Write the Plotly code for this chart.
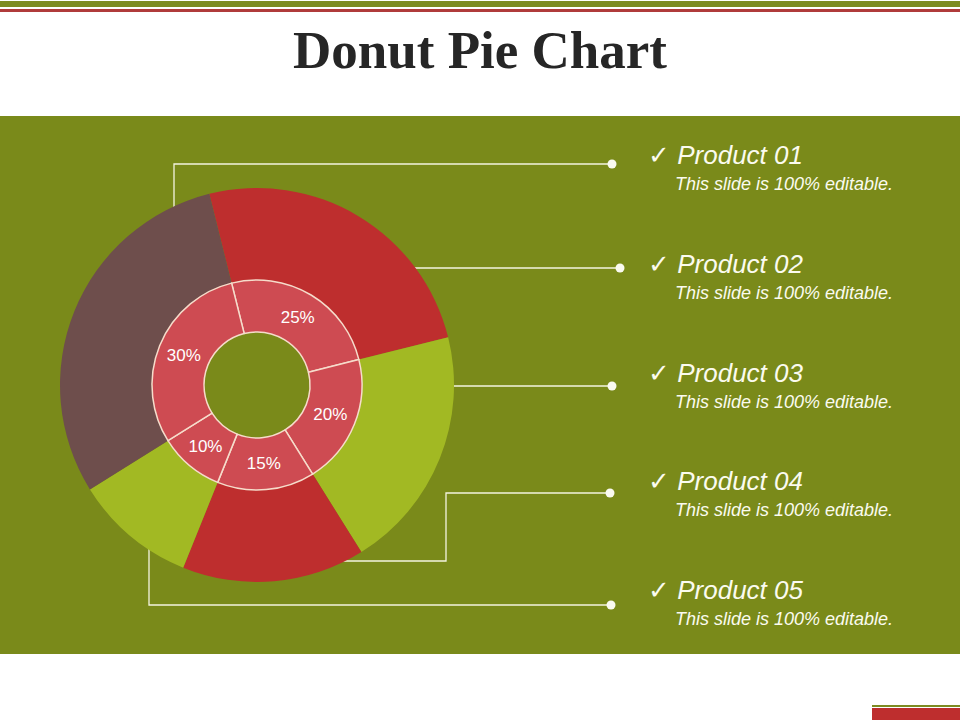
import plotly.graph_objects as go

# data
products = ["Product 01", "Product 02", "Product 03", "Product 04", "Product 05"]
shares = [25, 20, 15, 10, 30]
subtitle = "This slide is 100% editable."

RED = "#BE2E2E"
LIME = "#A2B923"
BROWN = "#6E4E4C"
RING = "#CE4B52"
OLIVE = "#7A8A1A"
W, H = 960, 720

outer_colors = [RED, LIME, RED, LIME, BROWN]

# pie geometry in pixels
cx, cy = 257, 385
r_out, r_mid, r_hole = 197, 105, 53


def dom(r):
    return dict(x=[(cx - r) / W, (cx + r) / W],
                y=[1 - (cy + r) / H, 1 - (cy - r) / H])


fig = go.Figure()

# connector lines, drawn under the pies
paths = [
    ([174, 174, 612], [220, 164, 164]),
    ([400, 620], [268, 268]),
    ([440, 612], [386, 386]),
    ([340, 446, 446, 610], [561, 561, 493, 493]),
    ([149, 149, 611], [530, 605, 605]),
]
for px, py in paths:
    fig.add_trace(go.Scatter(x=px, y=py, mode="lines",
                             line=dict(color="#F4F4E0", width=1.3),
                             hoverinfo="skip"))
    fig.add_trace(go.Scatter(x=[px[-1]], y=[py[-1]], mode="markers",
                             marker=dict(color="#FAFAF0", size=9),
                             hoverinfo="skip"))

fig.add_trace(go.Pie(
    values=shares, labels=products, sort=False, direction="clockwise",
    rotation=-14, hole=r_mid / r_out, domain=dom(r_out),
    marker=dict(colors=outer_colors, line=dict(width=0)),
    textinfo="none", hoverinfo="skip",
))

fig.add_trace(go.Pie(
    values=shares, labels=products, sort=False, direction="clockwise",
    rotation=-14, hole=r_hole / r_mid, domain=dom(r_mid),
    marker=dict(colors=[RING] * len(shares), line=dict(color="#F6DCCB", width=1.5)),
    texttemplate="%{value}%", textposition="inside",
    insidetextorientation="horizontal",
    textfont=dict(family="Liberation Sans, Arial", size=17, color="white"),
    hoverinfo="skip",
))

annotations = [dict(
    x=480, y=50, xref="x", yref="y", text="<b>Donut Pie Chart</b>",
    showarrow=False, font=dict(family="Liberation Serif, Times New Roman",
                               size=53, color="#262626"))]
for i, p in enumerate(products):
    y0 = 155 + i * 108.8
    annotations.append(dict(
        x=646, y=y0, xref="x", yref="y", xanchor="left", yanchor="middle",
        text="✓ <i>" + p + "</i>", showarrow=False,
        font=dict(family="Liberation Sans, Arial", size=26, color="#FBFBEF")))
    annotations.append(dict(
        x=673, y=y0 + 29, xref="x", yref="y", xanchor="left", yanchor="middle",
        text="<i>" + subtitle + "</i>", showarrow=False,
        font=dict(family="Liberation Sans, Arial", size=18, color="#FBFBEF")))

shapes = [
    dict(type="rect", x0=0, x1=W, y0=1, y1=7, fillcolor="#7D8B22", line_width=0, layer="below"),
    dict(type="rect", x0=0, x1=W, y0=9, y1=12, fillcolor="#B03B3B", line_width=0, layer="below"),
    dict(type="rect", x0=0, x1=W, y0=116, y1=654, fillcolor=OLIVE, line_width=0, layer="below"),
    dict(type="rect", x0=872, x1=W, y0=705, y1=707, fillcolor="#7D8B22", line_width=0, layer="below"),
    dict(type="rect", x0=872, x1=W, y0=708, y1=H, fillcolor=RED, line_width=0, layer="below"),
]

fig.update_layout(
    width=W, height=H, margin=dict(l=0, r=0, t=0, b=0),
    paper_bgcolor="white", plot_bgcolor="rgba(0,0,0,0)",
    showlegend=False,
    xaxis=dict(range=[0, W], visible=False, fixedrange=True),
    yaxis=dict(range=[H, 0], visible=False, fixedrange=True),
    shapes=shapes, annotations=annotations,
)

fig.write_html("out.html", config={"displayModeBar": False},
               post_script="document.body.style.margin='0';document.body.style.overflow='hidden';")
